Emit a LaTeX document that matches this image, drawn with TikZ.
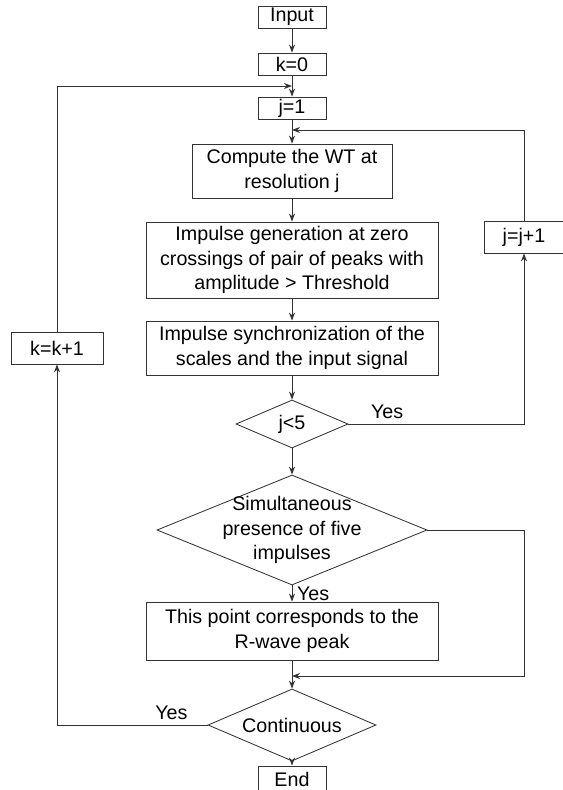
\documentclass[tikz,border=0pt]{standalone}
\usepackage{fontspec}
\setmainfont{Liberation Sans}
\usetikzlibrary{shapes.geometric,arrows.meta}
\begin{document}
\begin{tikzpicture}[x=0.025cm, y=-0.025cm, line width=0.6pt,
    >={Stealth[length=2mm,width=1.5mm]},
    every node/.style={font=\fontsize{14}{17.5}\selectfont},
    block/.style={draw=black!80, rectangle, align=center, inner sep=0pt},
    test/.style={draw=black!80, diamond, align=center, inner sep=0pt, aspect=2.4}]
\useasboundingbox (0,0) rectangle (563,790);
% main column
\node[block, minimum width=1.7cm, minimum height=0.55cm] (input) at (292,17) {Input};
\node[block, minimum width=1.7cm, minimum height=0.55cm] (k0) at (292,64) {k=0};
\node[block, minimum width=1.7cm, minimum height=0.55cm] (j1) at (292,108) {j=1};
\node[block, minimum width=5cm, minimum height=1.35cm] (wt) at (292,171) {Compute the WT at\\resolution j};
\node[block, minimum width=7.3cm, minimum height=1.9cm] (gen) at (292,260) {Impulse generation at zero\\crossings of pair of peaks with\\amplitude > Threshold};
\node[block, minimum width=7.3cm, minimum height=1.35cm] (sync) at (292,348) {Impulse synchronization of the\\scales and the input signal};
\node[test, minimum width=2.8cm, minimum height=1.2cm] (jtest) at (292,424) {j<5};
\node[test, inner ysep=-9pt, minimum width=6.75cm, minimum height=2.75cm] (sim) at (292,530) {Simultaneous\\presence of five\\impulses};
\node[block, minimum width=7.3cm, minimum height=1.45cm] (peak) at (292,631) {This point corresponds to the\\R-wave peak};
\node[test, minimum width=4.2cm, minimum height=1.8cm] (cont) at (292,725) {Continuous};
\node[block, minimum width=1.7cm, minimum height=0.65cm] (end) at (292,779) {End};
% loop boxes
\node[block, minimum width=2cm, minimum height=0.8cm] (jplus) at (524,237) {j=j+1};
\node[block, minimum width=2.3cm, minimum height=0.8cm] (kplus) at (57,348) {k=k+1};
\coordinate (joink) at (292,86);
\coordinate (joinj) at (292,130);
\coordinate (joinr) at (292,676);
\begin{scope}[draw=black!80]
\draw[->] (input) -- (k0);;
\draw[->] (k0) -- (j1);;
\draw[->] (j1) -- (wt);;
\draw[->] (wt) -- (gen);;
\draw[->] (gen) -- (sync);;
\draw[->] (sync) -- (jtest);;
\draw[->] (jtest) -- (sim);;
\draw[->] (sim) -- node[right] {Yes} (peak);;
\draw[->] (peak) -- (cont);;
\draw[->] (cont) -- (end);;
% j loop
\draw[->] (jtest.east) -| node[pos=0.11, above] {Yes} (jplus);;
\draw[->] (jplus) |- (joinj);;
\draw[->] (sim.east) -| (jplus.center |- joinr) -- (joinr);;
% k loop
\draw[->] (cont.west) -| node[pos=0.12, above] {Yes} (kplus);;
\draw[->] (kplus) |- (joink);;
\end{scope}
\end{tikzpicture}
\end{document}
